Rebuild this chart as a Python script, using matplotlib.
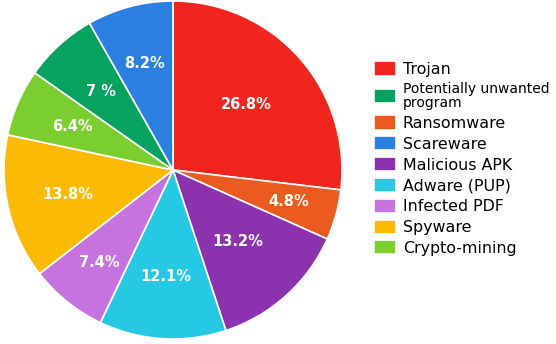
import numpy as np
import matplotlib
matplotlib.use("Agg")
import matplotlib.pyplot as plt

# Slices in the order they are drawn (clockwise from 12 o'clock)
labels = ["Trojan", "Ransomware", "Malicious APK", "Adware (PUP)", "Infected PDF",
          "Spyware", "Crypto-mining", "Potentially unwanted\nprogram", "Scareware"]
shares = [26.8, 4.8, 13.2, 12.1, 7.4, 13.8, 6.4, 7.0, 8.2]
pct_text = ["26.8%", "4.8%", "13.2%", "12.1%", "7.4%", "13.8%", "6.4%", "7 %", "8.2%"]
colors = ["#F2241F", "#EB5A1F", "#8D32AE", "#26C9E4", "#C673DF",
          "#FDBA03", "#7ACE2F", "#07A25F", "#2A7FE0"]

# Order the legend lists them in
legend_order = ["Trojan", "Potentially unwanted\nprogram", "Ransomware", "Scareware",
                "Malicious APK", "Adware (PUP)", "Infected PDF", "Spyware", "Crypto-mining"]

# how far out each percentage sits (fraction of radius)
label_r = [0.58, 0.71, 0.57, 0.63, 0.7, 0.64, 0.65, 0.63, 0.65]

fig = plt.figure(figsize=(5.56, 3.44), dpi=100)
ax = fig.add_axes([4 / 556, 5 / 344, 338 / 556, 338 / 344])

wedges, _ = ax.pie(shares, colors=colors, startangle=90, counterclock=False,
                   wedgeprops=dict(edgecolor="white", linewidth=1.2))
ax.set_xlim(-1, 1)
ax.set_ylim(-1, 1)
ax.set_aspect("equal")

for w, txt, r in zip(wedges, pct_text, label_r):
    ang = np.deg2rad((w.theta1 + w.theta2) / 2)
    ax.text(r * np.cos(ang), r * np.sin(ang), txt, ha="center", va="center",
            color="white", fontsize=10.5, fontweight="bold")

handles = [wedges[labels.index(l)] for l in legend_order]
leg = fig.legend(handles, legend_order, loc="upper left",
                 bbox_to_anchor=(368 / 556, 1 - 55 / 344), frameon=False,
                 fontsize=11.4, handlelength=1.35, handleheight=1.0,
                 handletextpad=0.45, labelspacing=0.335, borderaxespad=0)
for t in leg.get_texts():
    if t.get_text().startswith("Potentially"):
        t.set_fontsize(10)
        t.set_linespacing(1.0)

fig.savefig("out.png", dpi=100)
